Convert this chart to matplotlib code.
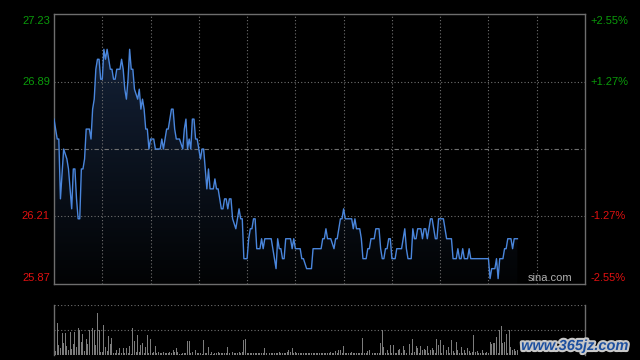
import matplotlib
matplotlib.use("Agg")
import matplotlib.pyplot as plt
import matplotlib.patheffects as pe
from matplotlib.patches import Polygon
from matplotlib.colors import LinearSegmentedColormap
import numpy as np

plt.rcParams["font.family"] = ["Liberation Sans", "DejaVu Sans"]

# previous close and the +/- range shown on the chart
prev_close = 26.55
pct_range = 0.0255
session_minutes = 330  # 09:30-12:00 + 13:00-16:00

# intraday price path (minute index, price)
minutes = [
    0, 2, 3, 4, 6, 8, 9, 11, 12, 13, 14, 15, 16, 17, 18, 19, 20, 22, 23, 24,
    25, 26, 27, 28, 29, 30, 31, 32, 33, 35, 36, 37, 38, 39, 41, 42, 43, 44, 45, 46,
    47, 48, 49, 50, 52, 53, 54, 55, 56, 57, 58, 59, 60, 62, 63, 66, 67, 68, 69, 70,
    71, 72, 73, 74, 75, 76, 78, 80, 81, 82, 83, 84, 85, 86, 87, 88, 89, 90, 91, 92,
    93, 94, 95, 96, 97, 99, 100, 101, 102, 103, 104, 105, 106, 107, 108, 109, 110, 111, 113, 114,
    115, 116, 117, 118, 120, 121, 122, 123, 124, 125, 126, 128, 129, 130, 131, 135, 136, 137, 138, 139,
    140, 141, 142, 143, 144, 147, 148, 149, 150, 153, 154, 155, 157, 160, 161, 166, 167, 168, 169, 170,
    172, 174, 175, 176, 177, 178, 179, 180, 181, 185, 186, 187, 188, 190, 191, 192, 194, 195, 196, 197,
    199, 200, 202, 203, 204, 205, 206, 207, 208, 209, 210, 212, 213, 216, 217, 218, 219, 220, 222, 223,
    224, 225, 226, 228, 229, 230, 231, 232, 233, 234, 235, 236, 237, 238, 239, 242, 243, 244, 247, 248,
    250, 251, 252, 253, 254, 255, 257, 258, 259, 270, 271, 272, 274, 275, 276, 277, 279, 280, 281, 282,
    284, 285, 286, 288,
]
prices = [
    26.70, 26.60, 26.60, 26.30, 26.55, 26.50, 26.45, 26.25, 26.45, 26.45, 26.30, 26.20, 26.20, 26.45, 26.45, 26.50, 26.65, 26.65, 26.60, 26.75,
    26.80, 26.95, 27.00, 27.00, 26.90, 26.90, 27.05, 27.00, 27.05, 26.95, 26.95, 26.90, 26.90, 26.95, 26.95, 27.00, 26.95, 26.85, 26.80, 26.90,
    27.05, 26.95, 26.95, 26.85, 26.80, 26.85, 26.75, 26.80, 26.75, 26.65, 26.65, 26.55, 26.60, 26.60, 26.55, 26.55, 26.60, 26.55, 26.60, 26.65,
    26.65, 26.70, 26.75, 26.75, 26.65, 26.60, 26.60, 26.55, 26.65, 26.70, 26.55, 26.60, 26.55, 26.70, 26.70, 26.60, 26.60, 26.55, 26.50, 26.55,
    26.55, 26.45, 26.35, 26.45, 26.35, 26.35, 26.40, 26.35, 26.35, 26.30, 26.25, 26.25, 26.30, 26.30, 26.25, 26.30, 26.30, 26.20, 26.15, 26.20,
    26.25, 26.20, 26.20, 26.00, 26.00, 26.10, 26.15, 26.15, 26.20, 26.20, 26.05, 26.05, 26.10, 26.05, 26.10, 26.10, 26.05, 26.00, 25.95, 26.10,
    26.05, 26.05, 26.00, 26.00, 26.10, 26.10, 26.05, 26.10, 26.05, 26.05, 26.00, 26.00, 25.95, 25.95, 26.05, 26.05, 26.10, 26.10, 26.15, 26.10,
    26.10, 26.05, 26.10, 26.10, 26.15, 26.20, 26.20, 26.25, 26.20, 26.20, 26.15, 26.20, 26.15, 26.15, 26.10, 26.00, 26.00, 26.05, 26.05, 26.10,
    26.10, 26.15, 26.15, 26.05, 26.00, 26.00, 26.05, 26.05, 26.10, 26.10, 26.00, 26.00, 26.05, 26.05, 26.10, 26.15, 26.05, 26.00, 26.00, 26.15,
    26.10, 26.10, 26.15, 26.15, 26.10, 26.15, 26.15, 26.10, 26.15, 26.20, 26.20, 26.15, 26.10, 26.10, 26.20, 26.20, 26.15, 26.10, 26.10, 26.00,
    26.00, 26.05, 26.00, 26.00, 26.05, 26.00, 26.00, 26.05, 26.00, 26.00, 25.90, 25.95, 25.95, 26.00, 25.90, 26.00, 26.00, 26.05, 26.05, 26.10,
    26.10, 26.05, 26.10, 26.10,
]

# per-minute volume, relative to the largest bar (=100)
volume = [
    100, 8, 64, 19, 14, 44, 23, 44, 17, 9, 45, 11, 21, 46, 15, 53, 50, 26, 41, 7,
    31, 21, 49, 7, 53, 50, 19, 84, 50, 5, 6, 59, 15, 8, 37, 22, 34, 3, 4, 9,
    3, 14, 4, 14, 3, 14, 3, 17, 2, 53, 27, 6, 39, 5, 19, 24, 4, 15, 39, 4,
    32, 4, 5, 17, 3, 5, 4, 4, 5, 3, 4, 3, 5, 4, 10, 5, 14, 6, 2, 2,
    3, 4, 4, 27, 27, 4, 6, 5, 10, 3, 3, 3, 2, 29, 3, 3, 15, 2, 5, 2,
    3, 3, 6, 3, 3, 3, 3, 3, 15, 3, 4, 5, 4, 3, 3, 5, 3, 5, 29, 32,
    3, 3, 3, 3, 3, 3, 3, 3, 3, 3, 3, 13, 3, 15, 3, 4, 3, 3, 3, 3,
    5, 3, 3, 3, 3, 5, 10, 5, 13, 3, 5, 3, 3, 3, 3, 3, 3, 3, 3, 3,
    3, 3, 3, 3, 3, 3, 3, 4, 3, 4, 3, 3, 5, 3, 3, 7, 3, 9, 9, 3,
    17, 3, 4, 3, 3, 5, 3, 3, 4, 3, 3, 3, 34, 3, 3, 7, 9, 3, 4, 3,
    3, 4, 3, 23, 50, 15, 3, 10, 3, 19, 3, 20, 3, 4, 9, 12, 3, 17, 9, 3,
    17, 21, 3, 31, 5, 17, 14, 3, 17, 9, 11, 9, 17, 3, 9, 14, 9, 3, 31, 19,
    29, 3, 19, 5, 9, 15, 3, 29, 7, 3, 26, 9, 3, 15, 3, 10, 3, 14, 7, 3,
    5, 39, 5, 7, 3, 3, 9, 3, 3, 5, 3, 26, 22, 23, 23, 36, 3, 50, 57, 23,
    26, 42, 3, 50, 15, 9, 12, 8, 10,
]

left_labels = ["27.23", "26.89", "26.21", "25.87"]
right_labels = ["+2.55%", "+1.27%", "-1.27%", "-2.55%"]

BG = "black"
GRID = "#707070"
UP = "#0a9a0a"
DOWN = "#e01010"
LINE = "#4a86dc"

ylo = prev_close * (1 - pct_range)
yhi = prev_close * (1 + pct_range)
level_prices = [yhi, prev_close * 1.0127, prev_close * 0.9873, ylo]

fig = plt.figure(figsize=(6.4, 3.6), dpi=100, facecolor=BG)
ax = fig.add_axes([54 / 640, 1 - 284 / 360, 531 / 640, 270 / 360], facecolor=BG)
axv = fig.add_axes([54 / 640, 1 - 354.5 / 360, 531 / 640, 49.8 / 360], facecolor=BG)

# ---- price panel
ax.set_xlim(0, session_minutes)
ax.set_ylim(ylo, yhi)

# gradient fill under the price line
cmap = LinearSegmentedColormap.from_list("fill", ["#020304", "#16253e"])
grad = np.linspace(1, 0, 256).reshape(-1, 1)
img = ax.imshow(grad, extent=[0, session_minutes, ylo, yhi], aspect="auto",
                cmap=cmap, origin="upper", zorder=1, interpolation="bilinear")
verts = [(minutes[0], ylo)] + list(zip(minutes, prices)) + [(minutes[-1], ylo)]
clip = Polygon(verts, closed=True, facecolor="none", edgecolor="none")
ax.add_patch(clip)
img.set_clip_path(clip)

ax.plot(minutes, prices, color=LINE, lw=1.0, zorder=4)

# grid
for t in range(30, session_minutes, 30):
    ax.axvline(t, color=GRID, lw=0.8, ls=(0, (1, 2)), zorder=2)
for p in level_prices[1:3]:
    ax.axhline(p, color=GRID, lw=0.8, ls=(0, (1, 2)), zorder=2)
ax.axhline(prev_close, color=GRID, lw=0.8, ls=(0, (4, 2, 1, 2)), zorder=2)

ax.set_xticks([])
ax.set_yticks([])
for s in ax.spines.values():
    s.set_color("#6e6e6e")
    s.set_linewidth(1)

# axis labels (coloured by side of previous close)
offsets = [-4.8, 0, 0, 4.6]
for i, (p, lab, rlab) in enumerate(zip(level_prices, left_labels, right_labels)):
    clr = UP if p > prev_close else DOWN
    ax.annotate(lab, xy=(0, p), xycoords=("axes fraction", "data"),
                xytext=(-3, offsets[i]), textcoords="offset points",
                ha="right", va="center", color=clr, fontsize=8)
    ax.annotate(rlab, xy=(1, p), xycoords=("axes fraction", "data"),
                xytext=(3.8, offsets[i]), textcoords="offset points",
                ha="left", va="center", color=clr, fontsize=8)

ax.text(0.977, 0.022, "sina.com", transform=ax.transAxes, ha="right",
        va="center", color="#b0b0b0", fontsize=8, zorder=5)

# ---- volume panel
vmax = max(volume)
axv.set_xlim(0, session_minutes)
axv.set_ylim(0, vmax * 1.0)
axv.bar(np.arange(len(volume)), volume, width=0.6, color="#7c7c7c", zorder=3)
axv.axhline(vmax, color=GRID, lw=0.8, ls=(0, (1, 2)), zorder=2)
axv.axhline(vmax / 2, color=GRID, lw=0.8, ls=(0, (1, 2)), zorder=2)
axv.set_xticks([])
axv.set_yticks([])
for side in ["top", "bottom"]:
    axv.spines[side].set_visible(False)
for side in ["left", "right"]:
    axv.spines[side].set_color("#6e6e6e")
    axv.spines[side].set_linewidth(1)

# site watermark in the corner
fig.text(575 / 640, 1 - 346 / 360, "www.365jz.com", ha="center", va="center",
         color="#1d4f9e", fontsize=10.5, fontweight="bold", style="italic",
         path_effects=[pe.withStroke(linewidth=3, foreground="#c8c8c8")])

fig.savefig("out.png", dpi=100, facecolor=BG)
